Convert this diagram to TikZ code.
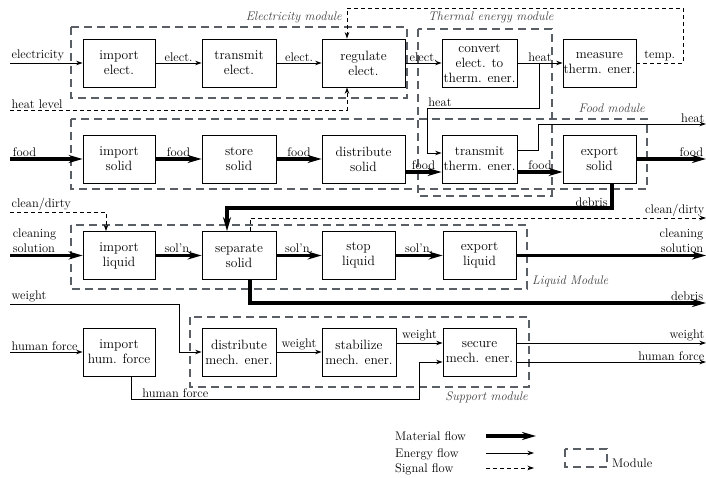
\documentclass[tikz,border=0pt]{standalone}
\usetikzlibrary{arrows.meta,calc}
\definecolor{modgray}{HTML}{5A5F66}
\begin{document}
\begin{tikzpicture}[x=1pt,y=-1pt,
  box/.style={draw, line width=0.8pt, fill=white, align=center, inner sep=0.5pt, minimum height=48pt, font=\fontsize{13.5}{15}\selectfont},
  lbl/.style={inner sep=1.2pt, font=\fontsize{12.5}{15}\selectfont},
  modlbl/.style={inner sep=0pt, font=\itshape\fontsize{12.5}{15}\selectfont, text=black!75},
  module/.style={draw=modgray, line width=2.6pt, dash pattern=on 8pt off 5pt},
  material/.style={line width=3.2pt, -{Stealth[length=14pt,width=8pt]}},
  energy/.style={line width=0.9pt, -{Stealth[length=6.5pt,width=4.5pt]}},
  signal/.style={line width=0.8pt, dash pattern=on 4pt off 3pt, -{Stealth[length=6.5pt,width=4.5pt]}}]
\useasboundingbox (0,0) rectangle (706,478);

% ---------- modules ----------
\draw[module] (71,27) rectangle (407,98);
\draw[module] (418,29) rectangle (552,196);
\draw[module] (71,119) rectangle (647,189);
\draw[module] (71,225) rectangle (527,289);
\draw[module] (190,317) rectangle (529,387);
\node[modlbl, anchor=base east] (mlE) at (342,21) {Electricity module};
\node[modlbl, anchor=base west] (mlT) at (428,21) {Thermal energy module};
\node[modlbl, anchor=base east] (mlF) at (645,113) {Food module};
\node[modlbl, anchor=base west] (mlL) at (532,284) {Liquid Module};
\node[modlbl, anchor=base east] (mlS) at (528,400) {Support module};

% ---------- boxes ----------
\node[box, minimum width=72pt] (ie) at (119,63) {import\\elect.};
\node[box, minimum width=74pt] (te) at (239,63) {transmit\\elect.};
\node[box, minimum width=83pt] (re) at (363.5,63) {regulate\\elect.};
\node[box, minimum width=75pt] (ce) at (479.5,63) {convert\\elect. to\\therm. ener.};
\node[box, minimum width=73pt] (me) at (599.5,63) {measure\\therm. ener.};

\node[box, minimum width=72pt] (is) at (119,159) {import\\solid};
\node[box, minimum width=74pt] (ss) at (239,159) {store\\solid};
\node[box, minimum width=83pt] (ds) at (363.5,159) {distribute\\solid};
\node[box, minimum width=75pt] (tt) at (479.5,159) {transmit\\therm. ener.};
\node[box, minimum width=73pt] (es) at (599.5,159) {export\\solid};

\node[box, minimum width=72pt] (il) at (119,255.5) {import\\liquid};
\node[box, minimum width=74pt] (sp) at (239,255.5) {separate\\solid};
\node[box, minimum width=73pt] (sl) at (358.5,255.5) {stop\\liquid};
\node[box, minimum width=73pt] (el) at (479.5,255.5) {export\\liquid};

\node[box, minimum width=72pt] (ih) at (119,352) {import\\hum. force};
\node[box, minimum width=74pt] (dm) at (239,352) {distribute\\mech. ener.};
\node[box, minimum width=74pt] (sm) at (359,352) {stabilize\\mech. ener.};
\node[box, minimum width=73pt] (sc) at (479.5,352) {secure\\mech. ener.};

% ---------- row 1: electricity ----------
\coordinate (elin) at (10,63);
\draw[energy] (elin) -- node[lbl, above right, pos=0] (tA1) {electricity} (ie);
\draw[energy] (ie) -- node[lbl, above] (tA2) {elect.} (te);
\draw[energy] (te) -- node[lbl, above] (tA3) {elect.} (re);
\draw[energy] (re) -- node[lbl, above] (tA4) {elect.} (ce);
\draw[energy] (ce) -- node[lbl, above] (tA5) {heat} (me);
\coordinate (tp1) at (683,63);
\coordinate (tp2) at (683,8);
\coordinate (tp3) at (347,8);
\draw[signal] (me) -- node[lbl, above] (tA6) {temp.} (tp1) -- (tp2) -- (tp3) -- (tp3 |- re.north);
\coordinate (hl0) at (10,110);
\coordinate (hl1) at (347,110);
\draw[signal] (hl0) -- node[lbl, above right, pos=0] (tA7) {heat level} (hl1) -- (hl1 |- re.south);
\coordinate (hb) at (539,63);
\coordinate (hk0) at (539,108);
\coordinate (hk1) at (427,108);
\coordinate (hk2) at (427,153);
\draw[energy] (hb) -- (hk0) -- (hk1) -- (hk2) -- (hk2 -| tt.west);
\node[lbl, anchor=south west] (tA8) at (hk1) {heat};

% ---------- row 2: food ----------
\coordinate (fin) at (10,159);
\coordinate (f2) at (0,172);
\coordinate (fout) at (706,159);
\draw[material] (fin) -- node[lbl, above right, pos=0] (tB1) {food} (is);
\draw[material] (is) -- node[lbl, above] (tB2) {food} (ss);
\draw[material] (ss) -- node[lbl, above] (tB3) {food} (ds);
\draw[material] (ds.east |- f2) -- node[lbl, above] (tB4) {food} (tt.west |- f2);
\draw[material] (tt.east |- f2) -- node[lbl, above] (tB5) {food} (es.west |- f2);
\draw[material] (es) -- node[lbl, above left, pos=1] (tB6) {food} (fout);
\coordinate (ho1) at (538,150);
\coordinate (ho2) at (538,124);
\coordinate (hout) at (706,124);
\draw[energy] (tt.east |- ho1) -- (ho1) -- (ho2) -- node[lbl, above left, pos=1] (tB7) {heat} (hout);
\coordinate (db1) at (612,208);
\coordinate (db2) at (227,208);
\draw[material] (db1 |- es.south) -- (db1) -- (db2) -- (db2 |- sp.north);
\node[lbl, anchor=south east] (tB8) at (609,208) {debris};

% ---------- row 3: liquid ----------
\coordinate (cd0) at (10,212);
\coordinate (cd1) at (106,212);
\draw[signal] (cd0) -- node[lbl, above right, pos=0] (tC1) {clean/dirty} (cd1) -- (cd1 |- il.north);
\coordinate (cs0) at (10,255.5);
\draw[material] (cs0) -- node[lbl, above right, pos=0, align=left] (tC2) {cleaning\\solution} (il);
\draw[material] (il) -- node[lbl, above] (tC3) {sol'n.} (sp);
\draw[material] (sp) -- node[lbl, above] (tC4) {sol'n.} (sl);
\draw[material] (sl) -- node[lbl, above] (tC5) {sol'n.} (el);
\coordinate (csout) at (706,255.5);
\draw[material] (el) -- node[lbl, above left, pos=1, align=right] (tC6) {cleaning\\solution} (csout);
\coordinate (co1) at (250,218);
\coordinate (cout) at (706,218);
\draw[signal] (co1 |- sp.north) -- (co1) -- node[lbl, above left, pos=1] (tC7) {clean/dirty} (cout);
\coordinate (do1) at (250,303);
\coordinate (dout) at (706,303);
\draw[material] (do1 |- sp.south) -- (do1) -- node[lbl, above left, pos=1] (tC8) {debris} (dout);

% ---------- row 4: support ----------
\coordinate (w0) at (10,304);
\coordinate (w1) at (179,304);
\coordinate (w2) at (179,352);
\draw[energy] (w0) -- node[lbl, above right, pos=0] (tD1) {weight} (w1) -- (w2) -- (dm);
\coordinate (hf0) at (10,352);
\draw[energy] (hf0) -- node[lbl, above right, pos=0] (tD2) {human force} (ih);
\coordinate (hh1) at (131,399);
\coordinate (hh2) at (419,399);
\coordinate (hh3) at (419,362);
\draw[energy] (hh1 |- ih.south) -- (hh1) -- (hh2) -- (hh3) -- (hh3 -| sc.west);
\node[lbl, anchor=south west] (tD3) at (141,399) {human force};
\draw[energy] (dm) -- node[lbl, above] (tD4) {weight} (sm);
\coordinate (w3) at (0,343);
\draw[energy] (sm.east |- w3) -- node[lbl, above] (tD5) {weight} (sc.west |- w3);
\coordinate (wout) at (706,343);
\coordinate (hfout) at (706,362);
\draw[energy] (sc.east |- wout) -- node[lbl, above left, pos=1] (tD6) {weight} (wout);
\draw[energy] (sc.east |- hfout) -- node[lbl, above left, pos=1] (tD7) {human force} (hfout);

% ---------- legend ----------
\node[lbl, anchor=base west, inner sep=0pt] (lg1) at (395,440) {Material flow};
\node[lbl, anchor=base west, inner sep=0pt] (lg2) at (395,457) {Energy flow};
\node[lbl, anchor=base west, inner sep=0pt] (lg3) at (395,472) {Signal flow};
\coordinate (lm0) at (486,436); \coordinate (lm1) at (536,436);
\coordinate (le0) at (486,453); \coordinate (le1) at (534,453);
\coordinate (ls0) at (486,468); \coordinate (ls1) at (534,468);
\draw[material] (lm0) -- (lm1);
\draw[energy] (le0) -- (le1);
\draw[signal] (ls0) -- (ls1);
\draw[module] (565,449) rectangle (607,467);
\node[lbl, anchor=base west, inner sep=0pt] (lg4) at (612,467) {Module};
\end{tikzpicture}
\end{document}
